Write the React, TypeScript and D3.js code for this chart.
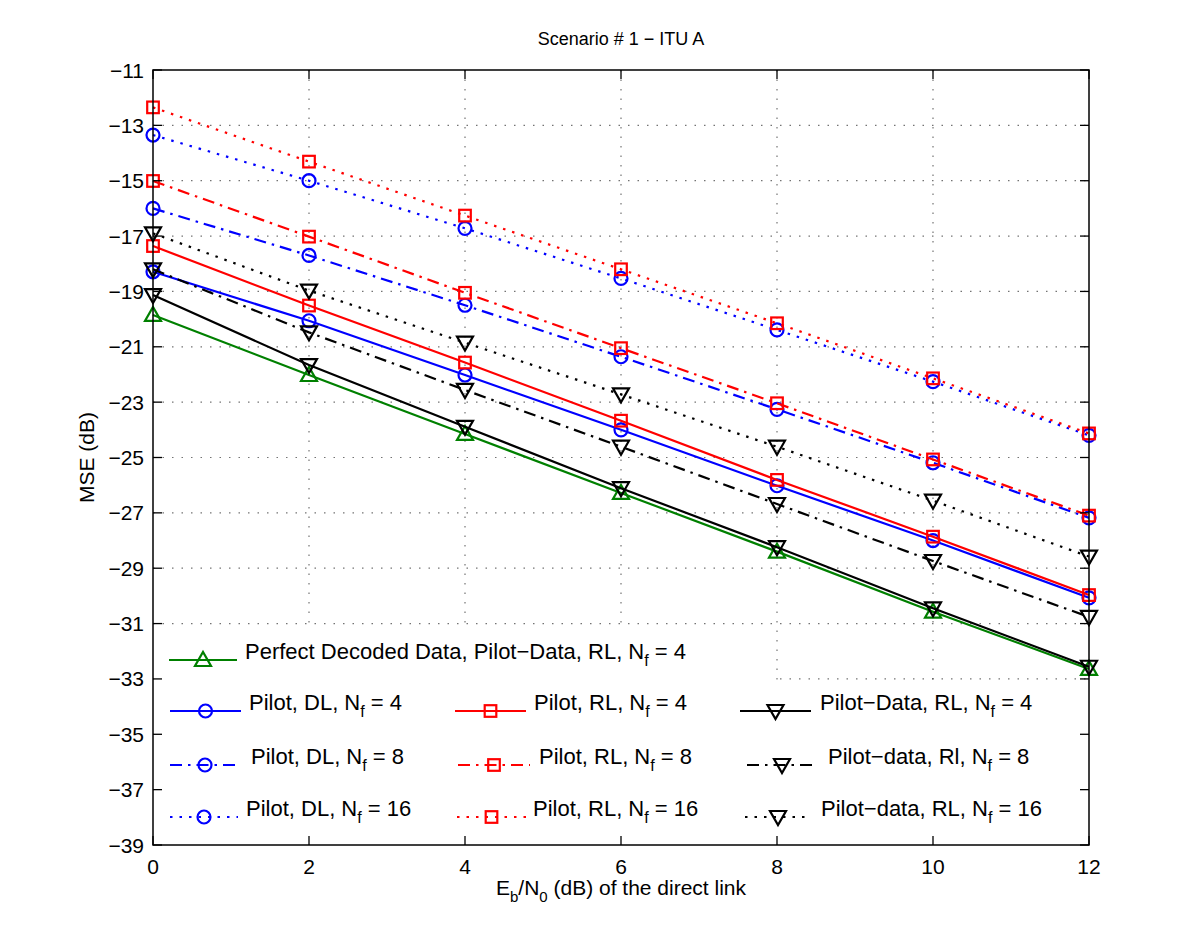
import React from "react";
import * as d3 from "d3";

const xValues = [0, 2, 4, 6, 8, 10, 12];
const xTicks = [0, 2, 4, 6, 8, 10, 12];
const yTicks = [-39, -37, -35, -33, -31, -29, -27, -25, -23, -21, -19, -17, -15, -13, -11];

const perfectPD4 = [-19.85, -22.02, -24.15, -26.28, -28.4, -30.57, -32.64];
const pilotDL4 = [-18.29, -20.06, -22.02, -24.0, -26.02, -28.0, -30.07];
const pilotRL4 = [-17.36, -19.51, -21.57, -23.67, -25.81, -27.86, -29.97];
const pilotDataRL4 = [-19.13, -21.66, -23.89, -26.11, -28.24, -30.45, -32.56];
const pilotDL8 = [-16.0, -17.7, -19.5, -21.36, -23.26, -25.19, -27.18];
const pilotRL8 = [-15.01, -17.02, -19.05, -21.05, -23.04, -25.07, -27.1];
const pilotDataRL8 = [-18.2, -20.48, -22.56, -24.61, -26.68, -28.74, -30.76];
const pilotDL16 = [-13.35, -15.0, -16.72, -18.53, -20.39, -22.26, -24.2];
const pilotRL16 = [-12.35, -14.31, -16.26, -18.2, -20.15, -22.14, -24.13];
const pilotDataRL16 = [-16.9, -18.97, -20.85, -22.72, -24.61, -26.56, -28.58];

type Marker = "tri-up" | "tri-down" | "circle" | "square";
type Series = { name: string; sub: string; values: number[]; color: string; dash: string; marker: Marker };

const SOLID = "";
const DASHDOT = "12,6,2.5,6";
const DOTTED = "2.5,7";

const series: Series[] = [
  { name: "Perfect Decoded Data, Pilot\u2212Data, RL, N", sub: " = 4", values: perfectPD4, color: "#008000", dash: SOLID, marker: "tri-up" },
  { name: "Pilot, DL, N", sub: " = 4", values: pilotDL4, color: "#0000ff", dash: SOLID, marker: "circle" },
  { name: "Pilot, RL, N", sub: " = 4", values: pilotRL4, color: "#ff0000", dash: SOLID, marker: "square" },
  { name: "Pilot\u2212Data, RL, N", sub: " = 4", values: pilotDataRL4, color: "#000000", dash: SOLID, marker: "tri-down" },
  { name: "Pilot, DL, N", sub: " = 8", values: pilotDL8, color: "#0000ff", dash: DASHDOT, marker: "circle" },
  { name: "Pilot, RL, N", sub: " = 8", values: pilotRL8, color: "#ff0000", dash: DASHDOT, marker: "square" },
  { name: "Pilot\u2212data, Rl, N", sub: " = 8", values: pilotDataRL8, color: "#000000", dash: DASHDOT, marker: "tri-down" },
  { name: "Pilot, DL, N", sub: " = 16", values: pilotDL16, color: "#0000ff", dash: DOTTED, marker: "circle" },
  { name: "Pilot, RL, N", sub: " = 16", values: pilotRL16, color: "#ff0000", dash: DOTTED, marker: "square" },
  { name: "Pilot\u2212data, RL, N", sub: " = 16", values: pilotDataRL16, color: "#000000", dash: DOTTED, marker: "tri-down" },
];

// legend layout: [seriesIndex, lineX1, lineX2, textX, rowY]
const legendLayout: [number, number, number, number, number][] = [
  [0, 169, 237, 245, 660],
  [1, 170, 241, 249, 711],
  [2, 455, 526, 534, 711],
  [3, 740, 811, 820, 711],
  [4, 170, 240, 251, 765],
  [5, 458, 530, 539, 765],
  [6, 747, 817, 828, 765],
  [7, 170, 238, 246, 817],
  [8, 457, 526, 533, 817],
  [9, 745, 811, 821, 817],
];

const W = 1200;
const H = 951;
const L = 153, R = 1089, T = 70, B = 845;
const FONT = "'Liberation Sans', Arial, Helvetica, sans-serif";

const x = d3.scaleLinear().domain([0, 12]).range([L, R]);
const y = d3.scaleLinear().domain([-39, -11]).range([B, T]);

function MarkerShape({ m, cx, cy, color }: { m: Marker; cx: number; cy: number; color: string }) {
  const sw = 2.2;
  if (m === "circle") return <circle cx={cx} cy={cy} r={6.5} fill="none" stroke={color} strokeWidth={sw} />;
  if (m === "square") return <rect x={cx - 5.8} y={cy - 5.8} width={11.6} height={11.6} fill="none" stroke={color} strokeWidth={sw} />;
  if (m === "tri-down") {
    const p = `${cx - 8},${cy - 6} ${cx + 8},${cy - 6} ${cx},${cy + 8}`;
    return <polygon points={p} fill="none" stroke={color} strokeWidth={sw} strokeLinejoin="miter" />;
  }
  const p = `${cx - 8},${cy + 6} ${cx + 8},${cy + 6} ${cx},${cy - 8}`;
  return <polygon points={p} fill="none" stroke={color} strokeWidth={sw} strokeLinejoin="miter" />;
}

export default function App() {
  const line = d3.line<number>().x((_, i) => x(xValues[i])).y((d) => y(d));
  const tickLen = 9;
  return (
    <svg width={W} height={H} style={{ position: "absolute", left: 0, top: 0, background: "#fff" }} fontFamily={FONT}>
      <rect x={0} y={0} width={W} height={H} fill="#fff" />
      {/* grid */}
      <g stroke="#000" strokeOpacity={0.55} strokeWidth={1.2} strokeDasharray="1.5,8">
        {xTicks.slice(1, -1).map((t) => (
          <line key={"gx" + t} x1={x(t)} x2={x(t)} y1={T} y2={B} />
        ))}
        {yTicks.slice(1, -1).map((t) => (
          <line key={"gy" + t} x1={L} x2={R} y1={y(t)} y2={y(t)} />
        ))}
      </g>
      {/* series */}
      {series.map((s, si) => (
        <g key={"s" + si}>
          <path d={line(s.values) || ""} fill="none" stroke={s.color} strokeWidth={2.2} strokeDasharray={s.dash || undefined} />
          {s.values.map((v, i) => (
            <MarkerShape key={i} m={s.marker} cx={x(xValues[i])} cy={y(v)} color={s.color} />
          ))}
        </g>
      ))}
      {/* legend backgrounds */}
      <rect x={L + 1} y={629} width={776 - L - 2} height={B - 629 - 1} fill="#fff" />
      <rect x={L + 1} y={682} width={R - L - 2} height={B - 682 - 1} fill="#fff" />
      {/* legend entries */}
      {legendLayout.map(([si, x1, x2, tx, ry]) => {
        const s = series[si];
        return (
          <g key={"lg" + si}>
            <line x1={x1} x2={x2} y1={ry} y2={ry} stroke={s.color} strokeWidth={2.2} strokeDasharray={s.dash || undefined} />
            <MarkerShape m={s.marker} cx={(x1 + x2) / 2} cy={ry} color={s.color} />
            <text x={tx} y={ry - 1} fontSize={22} fill="#000">
              {s.name}
              <tspan dy={7} fontSize={16}>f</tspan>
              <tspan dy={-7}>{s.sub}</tspan>
            </text>
          </g>
        );
      })}
      {/* axes box */}
      <rect x={L} y={T} width={R - L} height={B - T} fill="none" stroke="#000" strokeWidth={1.5} />
      <g stroke="#000" strokeWidth={1.3}>
        {xTicks.map((t) => (
          <g key={"tx" + t}>
            <line x1={x(t)} x2={x(t)} y1={B} y2={B - tickLen} />
            <line x1={x(t)} x2={x(t)} y1={T} y2={T + tickLen} />
          </g>
        ))}
        {yTicks.map((t) => (
          <g key={"ty" + t}>
            <line x1={L} x2={L + tickLen} y1={y(t)} y2={y(t)} />
            <line x1={R} x2={R - tickLen} y1={y(t)} y2={y(t)} />
          </g>
        ))}
      </g>
      {/* tick labels */}
      <g fontSize={21} fill="#000">
        {xTicks.map((t) => (
          <text key={"lx" + t} x={x(t)} y={B + 29} textAnchor="middle">
            {d3.format("d")(t)}
          </text>
        ))}
        {yTicks.map((t) => (
          <text key={"ly" + t} x={L - 9} y={y(t) + 7.5} textAnchor="end">
            {String(t).replace("-", "\u2212")}
          </text>
        ))}
      </g>
      {/* title and axis labels */}
      <text x={(L + R) / 2} y={45} textAnchor="middle" fontSize={18} fill="#000">
        Scenario # 1 {"\u2212"} ITU A
      </text>
      <text transform={`translate(94, ${(T + B) / 2}) rotate(-90)`} textAnchor="middle" fontSize={21} fill="#000">
        MSE (dB)
      </text>
      <text x={(L + R) / 2} y={895} textAnchor="middle" fontSize={21} fill="#000">
        E<tspan dy={7} fontSize={15}>b</tspan>
        <tspan dy={-7}>/N</tspan>
        <tspan dy={7} fontSize={15}>0</tspan>
        <tspan dy={-7}> (dB) of the direct link</tspan>
      </text>
    </svg>
  );
}
